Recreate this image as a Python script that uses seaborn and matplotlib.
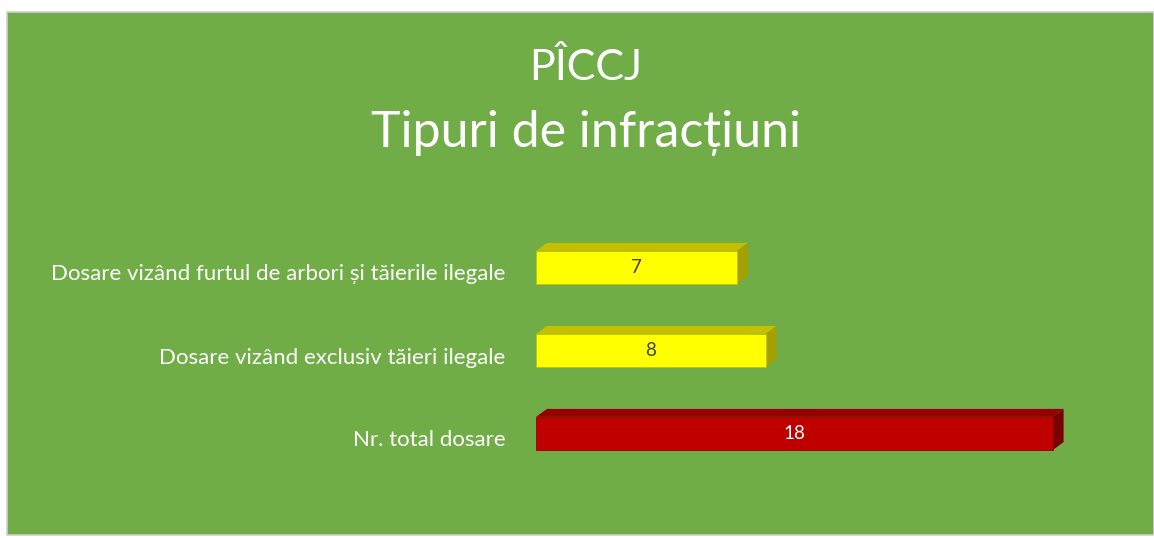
import matplotlib
matplotlib.use("Agg")
import matplotlib.pyplot as plt
import matplotlib.transforms as mtransforms
import seaborn as sns
import pandas as pd
from matplotlib.patches import Rectangle, Polygon

# data
categories = ["Dosare vizând furtul de arbori și tăierile ilegale",
              "Dosare vizând exclusiv tăieri ilegale",
              "Nr. total dosare"]
values = [7, 8, 18]
front_colors = ["#FFFF00", "#FFFF00", "#C00000"]
top_colors = ["#C4C000", "#C4C000", "#960000"]
side_colors = ["#A3A000", "#A3A000", "#7A0000"]
label_colors = ["#404040", "#404040", "#FFFFFF"]

df = pd.DataFrame({"cat": categories, "val": values})

sns.set_theme(style="white")
plt.rcParams["font.family"] = ["Lato", "DejaVu Sans"]

W, H = 1154, 538
fig = plt.figure(figsize=(W / 100, H / 100), dpi=100)
fig.patch.set_facecolor("white")

# green chart area with thin grey frame
fig.patches.append(Rectangle((7 / W, 0.005), 1 - 7 / W, 1 - 12 / H - 0.005,
                             transform=fig.transFigure, facecolor="#70AD47",
                             edgecolor="#D0D0D0", linewidth=1.2, zorder=-5))

ax = fig.add_axes([536 / W, 63 / H, (1110 - 536) / W, (312 - 63) / H])
ax.set_facecolor("none")

sns.barplot(data=df, x="val", y="cat", orient="h", width=0.4,
            palette=front_colors, hue="cat", legend=False, ax=ax,
            saturation=1, linewidth=0.6)

ax.set_xlim(0, 20)
ax.set_xlabel("")
ax.set_ylabel("")
ax.set_xticks([])
sns.despine(ax=ax, left=True, bottom=True)
ax.tick_params(axis="y", length=0, pad=22, labelsize=16, labelcolor="white")

# nudge category labels slightly down, like the original
shift = mtransforms.ScaledTranslation(0, -5 / 100, fig.dpi_scale_trans)
for lbl in ax.get_yticklabels():
    lbl.set_transform(lbl.get_transform() + shift)

# 3D faces: offset in pixels
dx, dy = 11, 8
fig.canvas.draw()
inv = ax.transData.inverted()
for i, p in enumerate(ax.patches):
    x0, y0 = p.get_x(), p.get_y()
    x1, y1 = x0 + p.get_width(), y0 + p.get_height()
    (ax0, ay0) = ax.transData.transform((x0, y0))
    (ax1, ay1) = ax.transData.transform((x1, y1))
    top = max(ay0, ay1)
    bot = min(ay0, ay1)
    top_face = [(ax0, top), (ax1, top), (ax1 + dx, top + dy), (ax0 + dx, top + dy)]
    side_face = [(ax1, top), (ax1 + dx, top + dy), (ax1 + dx, bot + dy), (ax1, bot)]
    ax.add_patch(Polygon(inv.transform(top_face), closed=True,
                         facecolor=top_colors[i], edgecolor="none", zorder=1))
    ax.add_patch(Polygon(inv.transform(side_face), closed=True,
                         facecolor=side_colors[i], edgecolor="none", zorder=1))
    p.set_zorder(2)
    p.set_edgecolor(top_colors[i])
    ax.text((x0 + x1) / 2, (y0 + y1) / 2, str(values[i]), ha="center", va="center",
            fontsize=13.5, color=label_colors[i], zorder=3)

fig.text(586 / W, 1 - 68 / H, "PÎCCJ", ha="center", va="center",
         fontsize=31, color="white")
fig.text(586 / W, 1 - 133 / H, "Tipuri de infracțiuni", ha="center", va="center",
         fontsize=36, color="white")

fig.savefig("out.png", dpi=100)
